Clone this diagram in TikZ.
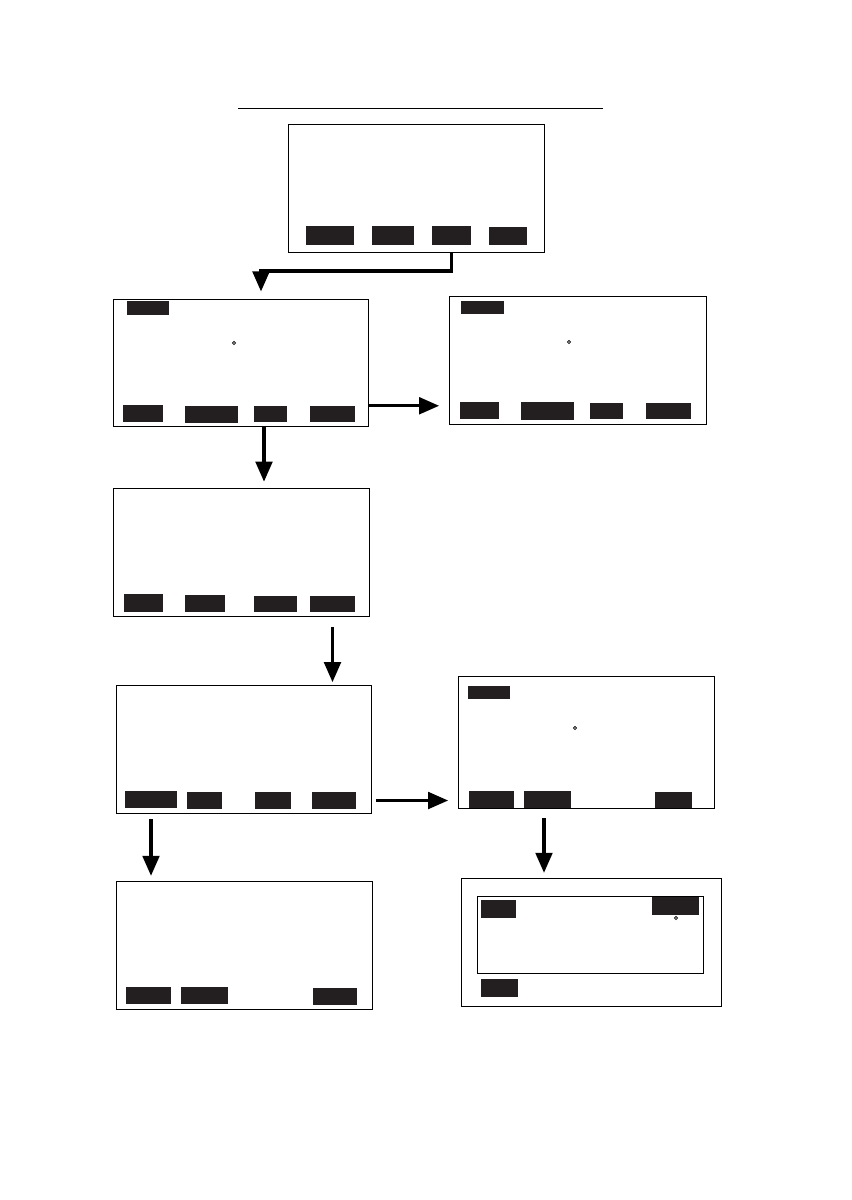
\documentclass[tikz,border=0pt]{standalone}
\usepackage{tikz}
\usetikzlibrary{arrows.meta,fit,calc}
\definecolor{keyblack}{RGB}{35,31,32}

\begin{document}
\begin{tikzpicture}[x=0.3mm, y=-0.3mm,
      screen/.style={draw, line width=0.85pt, inner sep=0pt},
      softkey/.style={fill=keyblack, inner sep=0pt},
      cursor/.style={circle, draw=keyblack, fill=keyblack!60, line width=0.4pt, inner sep=0pt, minimum size=1.1mm},
      flow/.style={line width=2.6pt, -{Triangle[width=5mm, length=6mm]}}
    ]
      \useasboundingbox (0,0) rectangle (852,1200);

      % title rule
      \draw[line width=0.85pt] (238,108) -- (603,108);

      % Screen 1
      \node[screen, fit={(288,124) (544,252)}] (s1) {};
      \node[softkey, fit={(306,226) (354,245)}] (s1k1) {};
      \node[softkey, fit={(372,226) (414,245)}] (s1k2) {};
      \node[softkey, fit={(432,226) (471,245)}] (s1k3) {};
      \node[softkey, fit={(489,227) (527,245)}] (s1k4) {};

      % Screen 2
      \node[screen, fit={(113,299) (368,426)}] (s2) {};
      \node[softkey, fit={(127,301) (169,315)}] (s2t) {};
      \node[cursor] (s2c) at (234,343) {};
      \node[softkey, fit={(123,405) (163,422)}] (s2k1) {};
      \node[softkey, fit={(185,406) (238,423)}] (s2k2) {};
      \node[softkey, fit={(254,406) (287,422)}] (s2k3) {};
      \node[softkey, fit={(310,406) (355,422)}] (s2k4) {};

      % Screen 3
      \node[screen, fit={(449,296) (706,424)}] (s3) {};
      \node[softkey, fit={(461,301) (504,314)}] (s3t) {};
      \node[cursor] (s3c) at (569,342) {};
      \node[softkey, fit={(460,402) (499,419)}] (s3k1) {};
      \node[softkey, fit={(521,402) (574,420)}] (s3k2) {};
      \node[softkey, fit={(590,403) (623,419)}] (s3k3) {};
      \node[softkey, fit={(646,403) (691,419)}] (s3k4) {};

      % Screen 4
      \node[screen, fit={(113,488) (369,616)}] (s4) {};
      \node[softkey, fit={(124,594) (163,612)}] (s4k1) {};
      \node[softkey, fit={(185,595) (225,612)}] (s4k2) {};
      \node[softkey, fit={(254,596) (297,612)}] (s4k3) {};
      \node[softkey, fit={(310,596) (355,612)}] (s4k4) {};

      % Screen 5
      \node[screen, fit={(116,685) (371,813)}] (s5) {};
      \node[softkey, fit={(125,791) (177,808)}] (s5k1) {};
      \node[softkey, fit={(187,792) (222,809)}] (s5k2) {};
      \node[softkey, fit={(255,792) (291,809)}] (s5k3) {};
      \node[softkey, fit={(312,792) (356,809)}] (s5k4) {};

      % Screen 6
      \node[screen, fit={(458,676) (714,808)}] (s6) {};
      \node[softkey, fit={(468,686) (510,699)}] (s6t) {};
      \node[cursor] (s6c) at (575,728) {};
      \node[softkey, fit={(469,791) (514,808)}] (s6k1) {};
      \node[softkey, fit={(524,791) (571,808)}] (s6k2) {};
      \node[softkey, fit={(655,792) (692,808)}] (s6k3) {};

      % Screen 7
      \node[screen, fit={(116,881) (372,1009)}] (s7) {};
      \node[softkey, fit={(126,987) (171,1004)}] (s7k1) {};
      \node[softkey, fit={(181,987) (228,1004)}] (s7k2) {};
      \node[softkey, fit={(313,988) (357,1005)}] (s7k3) {};

      % Screen 8 (window inside)
      \node[screen, fit={(461,878) (721,1006)}] (s8) {};
      \node[screen, fit={(477,896) (703,973)}] (s8w) {};
      \node[softkey, fit={(481,900) (516,918)}] (s8t) {};
      \node[softkey, fit={(652,897) (699,915)}] (s8r) {};
      \node[cursor] (s8c) at (676,918) {};
      \node[softkey, fit={(481,979) (518,997)}] (s8k1) {};

      % columns for the vertical arrows
      \coordinate (c12) at (261,0);
      \coordinate (c24) at (264,0);
      \coordinate (c68) at (544,0);

      % connectors
      \draw[flow, shorten >=6] (s1.south -| s1k3) -- ++(0,18.5) -| (s2.north -| c12);
      \draw[flow, shorten >=8] (s2.east |- s2k2.north) -- (s3.west |- s2k2.north);
      \draw[flow, shorten >=5] (s2.south -| c24) -- (s4.north -| c24);
      \draw[flow, shorten <=9, shorten >=2] (s4k4 |- s4.south) -- (s5.north -| s4k4);
      \draw[flow, shorten <=4, shorten >=8] (s5.east |- s5k4) -- (s6.west |- s5k4);
      \draw[flow, shorten <=5, shorten >=4] (s5.south -| s5k1) -- (s7.north -| s5k1);
      \draw[flow, shorten <=8, shorten >=4] (s6.south -| c68) -- (s8.north -| c68);
    \end{tikzpicture}
\end{document}
